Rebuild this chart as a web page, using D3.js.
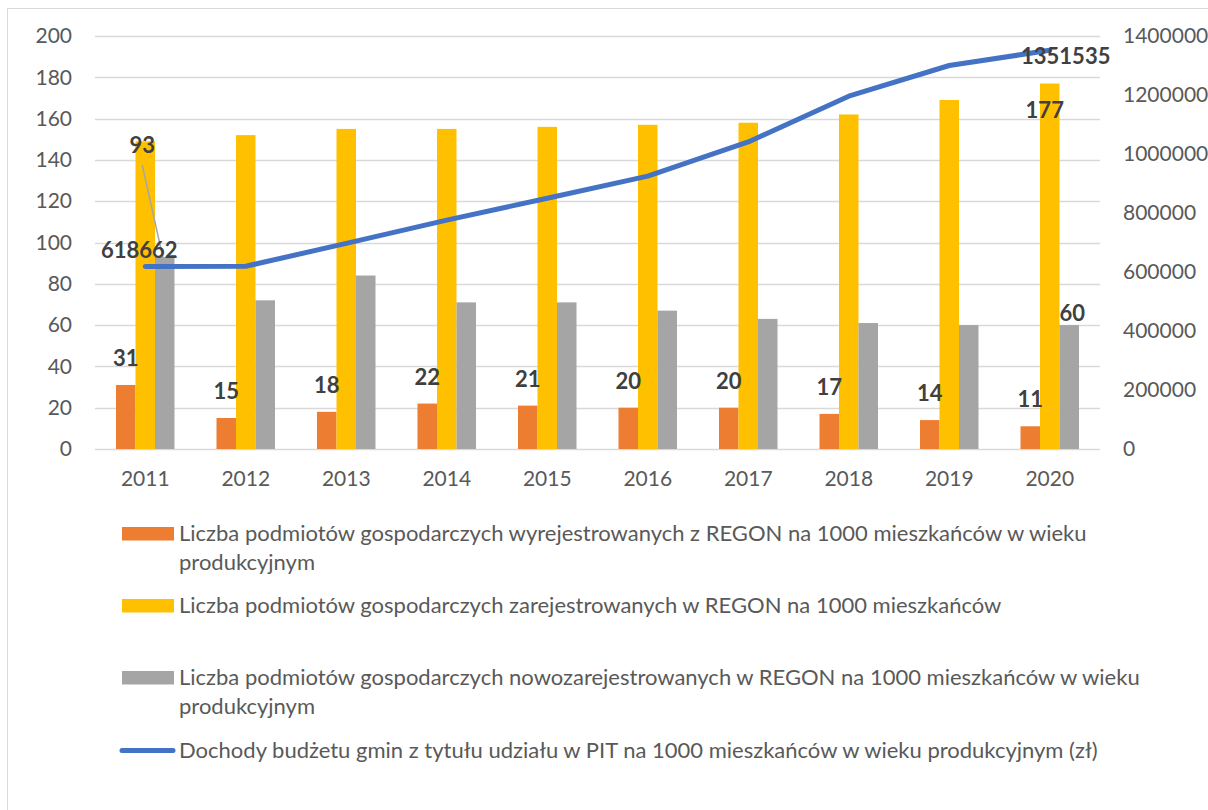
<!DOCTYPE html>
<html>
<head>
<meta charset="utf-8">
<script src="https://cdn.jsdelivr.net/npm/d3@7"></script>
<style>
  body { margin: 0; background: #fff; }
  svg { display: block; font-family: Lato, "Open Sans", sans-serif; }
</style>
</head>
<body>
<svg id="chart" width="1208" height="810"></svg>
<script>
// Categories
const years = ["2011", "2012", "2013", "2014", "2015", "2016", "2017", "2018", "2019", "2020"];

// Bar series (per 1000 inhabitants)
const wyrejestrowane = [31, 15, 18, 22, 21, 20, 20, 17, 14, 11];
const zarejestrowane = [149, 152, 155, 155, 156, 157, 158, 162, 169, 177];
const nowozarejestrowane = [93, 72, 84, 71, 71, 67, 63, 61, 60, 60];

// Line series (zł, right axis)
const dochodyPIT = [618662, 619500, 697000, 776000, 850000, 925000, 1041000, 1196000, 1300000, 1351535];

// Axis ticks
const leftTicks = [0, 20, 40, 60, 80, 100, 120, 140, 160, 180, 200];
const rightTicks = [0, 200000, 400000, 600000, 800000, 1000000, 1200000, 1400000];

// Legend texts
const legendWyrej = ["Liczba podmiotów gospodarczych wyrejestrowanych z REGON na 1000 mieszkańców w wieku", "produkcyjnym"];
const legendZarej = ["Liczba podmiotów gospodarczych zarejestrowanych w REGON na 1000 mieszkańców"];
const legendNowo = ["Liczba podmiotów gospodarczych nowozarejestrowanych w REGON na 1000 mieszkańców w wieku", "produkcyjnym"];
const legendPIT = ["Dochody budżetu gmin z tytułu udziału w PIT na 1000 mieszkańców w wieku produkcyjnym (zł)"];

const COLORS = { wyrej: "#ED7D31", zarej: "#FFC000", nowo: "#A5A5A5", pit: "#4472C4" };
const LABEL_COLOR = "#404040";
const AXIS_COLOR = "#595959";
const GRID_COLOR = "#D9D9D9";
const FONT = "Lato";

const svg = d3.select("#chart");

// Chart frame
svg.append("rect")
  .attr("x", 7.5).attr("y", 8.5)
  .attr("width", 1215).attr("height", 820)
  .attr("fill", "#fff").attr("stroke", GRID_COLOR).attr("stroke-width", 1);

const plot = { left: 95, right: 1100, top: 36, bottom: 449 };

const x0 = d3.scaleBand()
  .domain(years)
  .range([plot.left, plot.right])
  .paddingInner(0.418)
  .paddingOuter(0.209);

const seriesKeys = ["wyrej", "zarej", "nowo"];
const x1 = d3.scaleBand().domain(seriesKeys).range([0, x0.bandwidth()]);

const yL = d3.scaleLinear().domain([0, 200]).range([plot.bottom, plot.top]);
const yR = d3.scaleLinear().domain([0, 1400000]).range([plot.bottom, plot.top]);

// Gridlines
const grid = svg.append("g");
grid.selectAll("line").data(leftTicks).join("line")
  .attr("x1", plot.left).attr("x2", plot.right)
  .attr("y1", d => Math.round(yL(d)) + 0.5).attr("y2", d => Math.round(yL(d)) + 0.5)
  .attr("stroke", GRID_COLOR).attr("stroke-width", 1.5);

// Left axis
const leftAxis = svg.append("g")
  .attr("transform", `translate(${plot.left - 23},0)`)
  .call(d3.axisLeft(yL).tickValues(leftTicks).tickSize(0).tickPadding(0));
leftAxis.select(".domain").remove();
leftAxis.selectAll("text")
  .attr("fill", AXIS_COLOR).attr("font-size", 21).attr("font-family", FONT);

// Right axis
const rightAxis = svg.append("g")
  .attr("transform", `translate(${plot.right + 23},0)`)
  .call(d3.axisRight(yR).tickValues(rightTicks).tickFormat(d3.format("d")).tickSize(0).tickPadding(0));
rightAxis.select(".domain").remove();
rightAxis.selectAll("text")
  .attr("fill", AXIS_COLOR).attr("font-size", 21).attr("font-family", FONT);

// Bottom axis
const bottomAxis = svg.append("g")
  .attr("transform", `translate(0,${plot.bottom})`)
  .call(d3.axisBottom(x0).tickSize(0).tickPadding(22));
bottomAxis.select(".domain").remove();
bottomAxis.selectAll("text")
  .attr("fill", AXIS_COLOR).attr("font-size", 21).attr("font-family", FONT);

// Bars
const rows = years.map((y, i) => ({
  year: y,
  wyrej: wyrejestrowane[i],
  zarej: zarejestrowane[i],
  nowo: nowozarejestrowane[i]
}));

const groups = svg.append("g").selectAll("g").data(rows).join("g")
  .attr("transform", d => `translate(${x0(d.year)},0)`);

groups.selectAll("rect")
  .data(d => seriesKeys.map(k => ({ key: k, value: d[k] })))
  .join("rect")
  .attr("x", d => x1(d.key))
  .attr("width", x1.bandwidth())
  .attr("y", d => yL(d.value))
  .attr("height", d => yL(0) - yL(d.value))
  .attr("fill", d => COLORS[d.key]);

// Line (right axis)
const cx = y => x0(y) + x0.bandwidth() / 2;
const line = d3.line()
  .x((d, i) => cx(years[i]))
  .y(d => yR(d));

svg.append("path")
  .datum(dochodyPIT)
  .attr("d", line)
  .attr("fill", "none")
  .attr("stroke", COLORS.pit)
  .attr("stroke-width", 5)
  .attr("stroke-linecap", "round")
  .attr("stroke-linejoin", "round");

// Leader line for the 2011 new-registration label
const first = rows[0];
const nowoX2011 = x0(first.year) + x1("nowo") + x1.bandwidth() / 2;
svg.append("line")
  .attr("x1", cx(first.year) - 3).attr("y1", 165)
  .attr("x2", nowoX2011 - 2).attr("y2", yL(first.nowo))
  .attr("stroke", "#A6A6A6").attr("stroke-width", 1.5);

// Data labels
const labels = svg.append("g")
  .attr("font-family", FONT)
  .attr("font-weight", "bold")
  .attr("font-size", 22)
  .attr("fill", LABEL_COLOR)
  .attr("text-anchor", "middle");

// Deregistered counts above the orange bars
labels.selectAll("text.wyrej").data(rows).join("text")
  .attr("class", "wyrej")
  .attr("x", d => x0(d.year) + x1("wyrej") + x1.bandwidth() / 2)
  .attr("y", d => yL(d.wyrej) - 19)
  .text(d => d.wyrej);

labels.append("text")
  .attr("x", cx(first.year) - 3)
  .attr("y", 153)
  .text(first.nowo);

// PIT income label, 2011
labels.append("text")
  .attr("x", cx(first.year) - 6)
  .attr("y", yR(dochodyPIT[0]) - 8)
  .text(dochodyPIT[0]);

// 2020 labels
const last = rows[rows.length - 1];
labels.append("text")
  .attr("x", cx(last.year) + 16)
  .attr("y", yR(dochodyPIT[dochodyPIT.length - 1]) + 14)
  .text(dochodyPIT[dochodyPIT.length - 1]);

labels.append("text")
  .attr("x", cx(last.year) - 5)
  .attr("y", yL(last.zarej) + 35)
  .text(last.zarej);

labels.append("text")
  .attr("x", x0(last.year) + x1("nowo") + x1.bandwidth() / 2 + 3)
  .attr("y", yL(last.nowo) - 4)
  .text(last.nowo);

// Legend
const legend = svg.append("g")
  .attr("font-family", FONT)
  .attr("font-size", 22)
  .attr("fill", AXIS_COLOR);

const legendItems = [
  { key: "wyrej", lines: legendWyrej, y: 527, type: "rect" },
  { key: "zarej", lines: legendZarej, y: 599, type: "rect" },
  { key: "nowo", lines: legendNowo, y: 671, type: "rect" },
  { key: "pit", lines: legendPIT, y: 744, type: "line" }
];

legendItems.forEach(item => {
  if (item.type === "rect") {
    legend.append("rect")
      .attr("x", 122).attr("y", item.y)
      .attr("width", 52).attr("height", 13.5)
      .attr("fill", COLORS[item.key]);
  } else {
    legend.append("line")
      .attr("x1", 122).attr("x2", 173)
      .attr("y1", item.y + 6.5).attr("y2", item.y + 6.5)
      .attr("stroke", COLORS[item.key]).attr("stroke-width", 5)
      .attr("stroke-linecap", "round");
  }
  const t = legend.append("text").attr("x", 179).attr("y", item.y + 14);
  item.lines.forEach((ln, i) => {
    t.append("tspan").attr("x", 179).attr("dy", i === 0 ? 0 : 29).text(ln);
  });
});
</script>
</body>
</html>
